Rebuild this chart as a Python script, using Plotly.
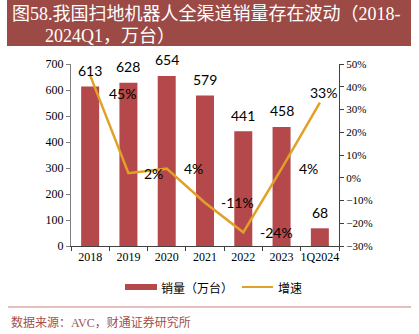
import plotly.graph_objects as go

categories = ["2018", "2019", "2020", "2021", "2022", "2023", "1Q2024"]
sales = [613, 628, 654, 579, 441, 458, 68]
growth = [45, 2, 4, -11, -24, 4, 33]
growth_labels = ["45%", "2%", "4%", "-11%", "-24%", "4%", "33%"]

# label offsets (style only)
g_xshift = [17, 14, 15, 14, 15, 15, -12]
g_yshift = [-18, 0, 0, 0, 0, 0, 10]

W, H = 419, 334
L, R, T, B = 71, 339, 64, 246


def px(x):
    return (x - L) / (R - L)


def py(y):
    return (B - y) / (B - T)


BAR = "#B4484A"
LINE = "#E1A128"
SERIF = "Liberation Serif, Noto Sans CJK SC"
SANS = "Lato, Noto Sans CJK SC"

fig = go.Figure()
fig.add_trace(go.Bar(x=categories, y=sales, marker=dict(color=BAR, line=dict(width=0)),
                     name="销量（万台）", showlegend=False, xaxis="x", yaxis="y"))
fig.add_trace(go.Scatter(x=categories, y=growth, mode="lines", line=dict(color=LINE, width=2.5),
                         name="增速", showlegend=False, xaxis="x", yaxis="y2"))

ann = []
for i, v in enumerate(sales):
    ann.append(dict(x=i, y=v, xref="x", yref="y", text=str(v), showarrow=False,
                    yshift=16, font=dict(family=SANS, size=14, color="black")))
for i, (v, t, xs, ys) in enumerate(zip(growth, growth_labels, g_xshift, g_yshift)):
    ann.append(dict(x=i, y=v, xref="x", yref="y2", text=t, showarrow=False,
                    xanchor="left", xshift=xs, yshift=ys,
                    font=dict(family=SANS, size=14, color="black")))

# title
ann.append(dict(x=px(10), y=py(14), xref="paper", yref="paper", xanchor="left", yanchor="middle",
                text="图58.我国扫地机器人全渠道销量存在波动（2018-", showarrow=False,
                font=dict(family=SERIF, size=18, color="white")))
ann.append(dict(x=px(43), y=py(36), xref="paper", yref="paper", xanchor="left", yanchor="middle",
                text="2024Q1，万台）", showarrow=False,
                font=dict(family=SERIF, size=18, color="white")))
# legend
ann.append(dict(x=px(159), y=py(287), xref="paper", yref="paper", xanchor="left", yanchor="middle",
                text="销量（万台）", showarrow=False,
                font=dict(family="Noto Sans CJK SC", size=12, color="black")))
ann.append(dict(x=px(276), y=py(287), xref="paper", yref="paper", xanchor="left", yanchor="middle",
                text="增速", showarrow=False,
                font=dict(family="Noto Sans CJK SC", size=12, color="black")))
# source
ann.append(dict(x=px(9), y=py(322), xref="paper", yref="paper", xanchor="left", yanchor="middle",
                text="数据来源：AVC，财通证券研究所", showarrow=False,
                font=dict(family=SERIF, size=12, color="#A4504C")))

shapes = [
    dict(type="rect", xref="paper", yref="paper", x0=px(7), x1=px(411), y0=py(0), y1=py(46),
         fillcolor="#9C4A46", line=dict(width=0), layer="below"),
    dict(type="line", xref="paper", yref="paper", x0=px(8), x1=px(411), y0=py(307), y1=py(307),
         line=dict(color="#DDA9A7", width=1.5)),
    dict(type="rect", xref="paper", yref="paper", x0=px(125), x1=px(157), y0=py(284), y1=py(290),
         fillcolor=BAR, line=dict(width=0)),
    dict(type="line", xref="paper", yref="paper", x0=px(242), x1=px(273), y0=py(287), y1=py(287),
         line=dict(color=LINE, width=2)),
]

tickfont = dict(family="Liberation Serif", size=12, color="black")
tickfont2 = dict(family="Liberation Serif", size=11, color="black")
fig.update_layout(
    width=W, height=H,
    margin=dict(l=L, r=W - R, t=T, b=H - B, pad=0),
    paper_bgcolor="white", plot_bgcolor="white",
    bargap=0.53,
    xaxis=dict(type="category", categoryorder="array", categoryarray=categories,
               range=[-0.5, len(categories) - 0.5], autorange=False,
               showline=True, linecolor="#404040", linewidth=1,
               ticks="outside", ticklen=4, tickcolor="#404040", tickson="boundaries",
               tickfont=tickfont, showgrid=False, tickangle=0),
    yaxis=dict(range=[0, 700], dtick=100, showline=True, linecolor="#808080", linewidth=1,
               ticks="outside", ticklen=4, tickcolor="#808080", tickfont=tickfont,
               showgrid=False, zeroline=False),
    yaxis2=dict(range=[-30, 50], dtick=10, overlaying="y", side="right", ticksuffix="%",
                showline=True, linecolor="#404040", linewidth=1, ticks="outside", ticklen=4,
                tickcolor="#404040", tickfont=tickfont2, showgrid=False, zeroline=False),
    annotations=ann,
    shapes=shapes,
    showlegend=False,
)

fig.write_html("out.html")
